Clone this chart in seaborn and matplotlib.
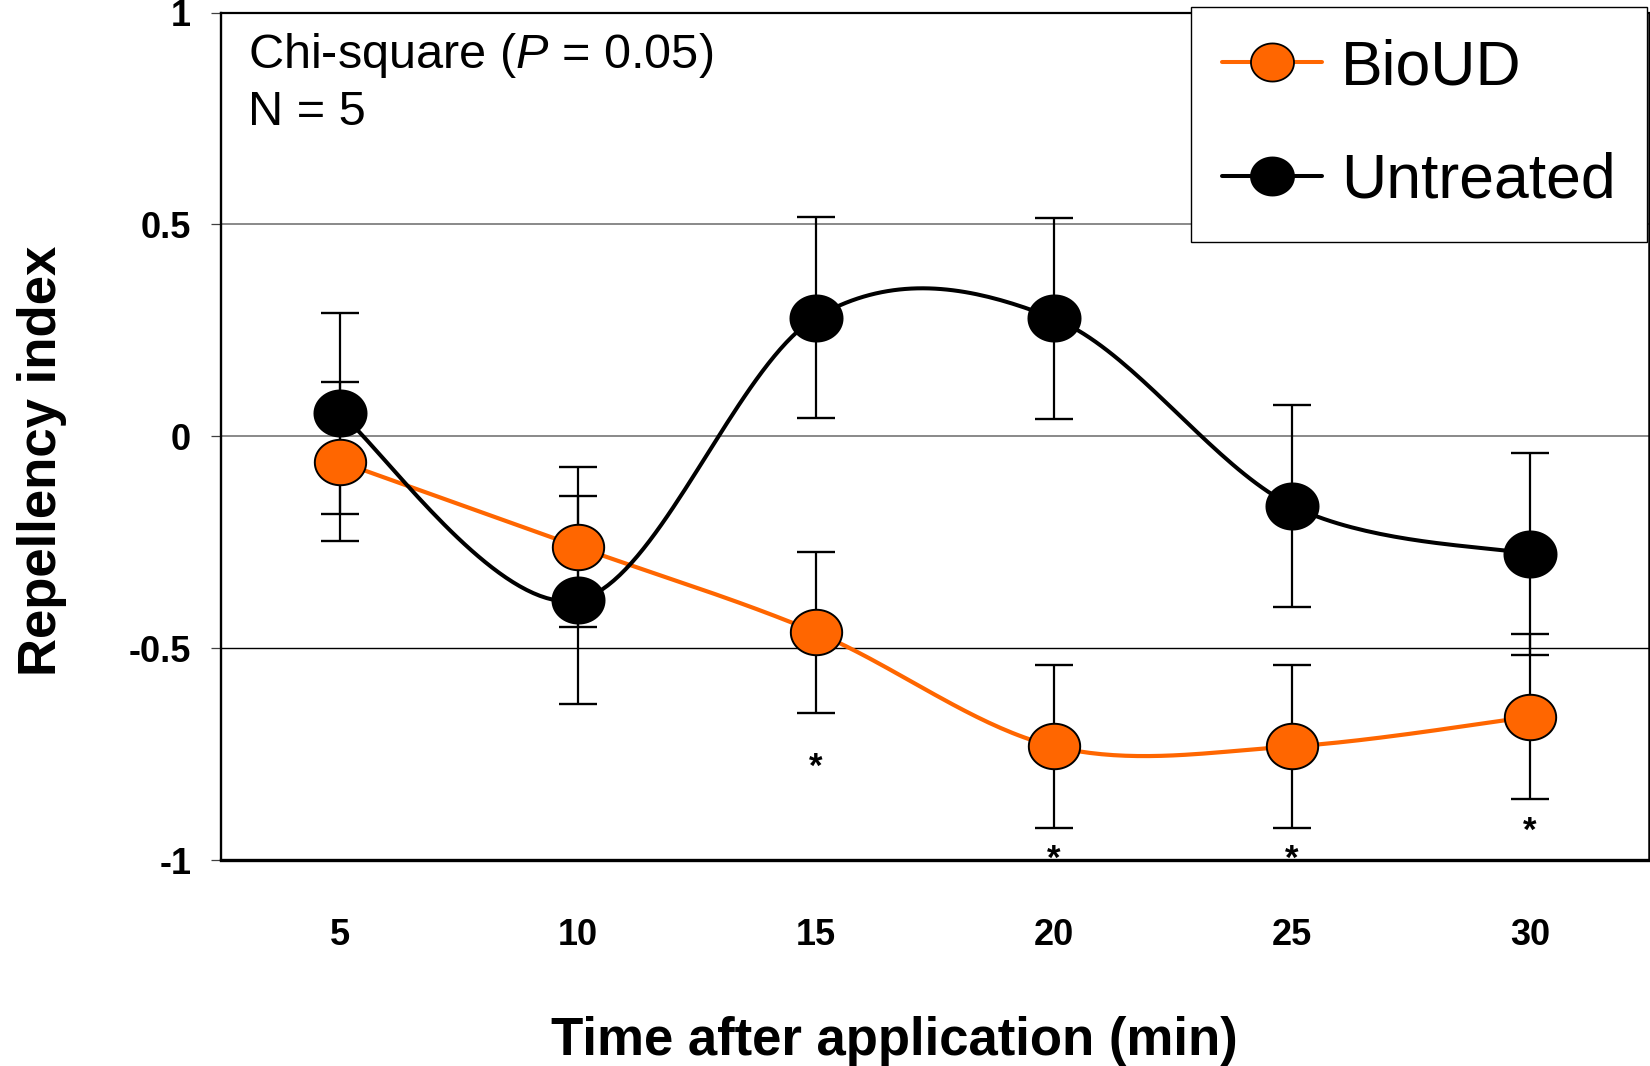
import numpy as np
import pandas as pd
import matplotlib
matplotlib.use("Agg")
import matplotlib.pyplot as plt
from matplotlib.path import Path
from matplotlib.lines import Line2D
import seaborn as sns

# ---------------- data ----------------
time_labels = ["5", "10", "15", "20", "25", "30"]
bioud = [-0.060, -0.261, -0.463, -0.732, -0.732, -0.662]
bioud_err = [0.188, 0.188, 0.190, 0.192, 0.192, 0.195]
untreated = [0.054, -0.387, 0.280, 0.278, -0.164, -0.278]
untreated_err = [0.238, 0.245, 0.237, 0.237, 0.238, 0.238]
sig_idx = [2, 3, 4, 5]
sig_y = [-0.759, -0.975, -0.975, -0.908]
series_names = ["BioUD", "Untreated"]
note_lines = ["Chi-square ($\\mathit{P}$ = 0.05)", "N = 5"]

ORANGE = "#FF6600"
DPI = 100

sns.set_theme(style="white")
plt.rcParams["font.family"] = ["Liberation Sans", "DejaVu Sans"]
plt.rcParams["mathtext.fontset"] = "custom"
plt.rcParams["mathtext.rm"] = "Liberation Sans"
plt.rcParams["mathtext.it"] = "Liberation Sans:italic"
for k in ["text.color", "axes.labelcolor", "xtick.color", "ytick.color"]:
    plt.rcParams[k] = "black"

fig = plt.figure(figsize=(16.5, 10.66), dpi=DPI)
L, R, T, B = 221, 1649, 12.5, 860
W, H = 1650, 1066
ax = fig.add_axes([L / W, 1 - B / H, (R - L) / W, (B - T) / H])

xpos = np.arange(len(time_labels))


def catmull_rom(xs, ys, n=40):
    """Smoothed (Excel-like) curve through the data points."""
    P = np.column_stack([xs, ys]).astype(float)
    P = np.vstack([P[0], P, P[-1]])
    out = []
    for i in range(1, len(P) - 2):
        p0, p1, p2, p3 = P[i - 1], P[i], P[i + 1], P[i + 2]
        t = np.linspace(0, 1, n, endpoint=(i == len(P) - 3))[:, None]
        m1 = (p2 - p0) / 2
        m2 = (p3 - p1) / 2
        h00 = 2 * t**3 - 3 * t**2 + 1
        h10 = t**3 - 2 * t**2 + t
        h01 = -2 * t**3 + 3 * t**2
        h11 = t**3 - t**2
        out.append(h00 * p1 + h10 * m1 + h01 * p2 + h11 * m2)
    c = np.vstack(out)
    return c[:, 0], c[:, 1]


# elliptical marker (wider than tall, as in the reference)
theta = np.linspace(0, 2 * np.pi, 65)
ell = Path(np.column_stack([np.cos(theta), 0.885 * np.sin(theta)]), closed=True)

# grid lines
ax.axhline(0.5, color="#808080", lw=1.3, zorder=0)
ax.axhline(0.0, color="#808080", lw=1.3, zorder=0)
ax.axhline(-0.5, color="black", lw=1.0, zorder=0)

# error bars
ax.errorbar(xpos, bioud, yerr=bioud_err, fmt="none", ecolor="black",
            elinewidth=1.6, capsize=14, capthick=1.7, zorder=2)
ax.errorbar(xpos, untreated, yerr=untreated_err, fmt="none", ecolor="black",
            elinewidth=1.6, capsize=14, capthick=1.7, zorder=2)

# smoothed lines
bx, by = catmull_rom(xpos, bioud)
ux, uy = catmull_rom(xpos, untreated)
sns.lineplot(x=bx, y=by, sort=False, estimator=None, color=ORANGE, lw=3.0, ax=ax, zorder=3)
sns.lineplot(x=ux, y=uy, sort=False, estimator=None, color="black", lw=2.9, ax=ax, zorder=3)

# markers
sns.scatterplot(x=xpos, y=bioud, marker=ell, s=37**2, color=ORANGE,
                edgecolor="black", linewidth=1.4, ax=ax, zorder=4)
sns.scatterplot(x=xpos, y=untreated, marker=ell, s=37.5**2, color="black",
                edgecolor="black", linewidth=1.4, ax=ax, zorder=5)

# significance asterisks
for i, yv in zip(sig_idx, sig_y):
    ax.annotate("*", xy=(xpos[i], yv), xytext=(0, -14), textcoords="offset points",
                ha="center", va="baseline", fontsize=25, fontweight="bold")

ax.set_xlim(-0.5, len(time_labels) - 0.5)
ax.set_ylim(-1, 1)
ax.set_xticks(xpos)
ax.set_xticklabels(time_labels)
ax.set_yticks([-1, -0.5, 0, 0.5, 1])
ax.set_yticklabels(["-1", "-0.5", "0", "0.5", "1"])
ax.tick_params(axis="x", length=0, pad=41.5, labelsize=26)
ax.tick_params(axis="y", direction="out", length=7.5, width=0.9, color="#404040",
               pad=14, labelsize=26, left=True, labelcolor="black")
for lab in ax.get_xticklabels() + ax.get_yticklabels():
    lab.set_fontweight("bold")

for s, lw in zip(["left", "bottom", "top", "right"], [1.7, 2.4, 1.6, 1.8]):
    ax.spines[s].set_visible(True)
    ax.spines[s].set_color("black")
    ax.spines[s].set_linewidth(lw)

ax.set_xlabel("Time after application (min)", fontsize=38, fontweight="bold", color="black")
ax.set_ylabel("Repellency index", fontsize=38, fontweight="bold", color="black")
ax.xaxis.set_label_coords((894 - L) / (R - L), -(1015.5 - B) / (B - T))
ax.yaxis.set_label_coords(-(L - 67) / (R - L), (B - 461) / (B - T))

# annotation
fig.text(248 / W, 1 - 68.5 / H, note_lines[0], fontsize=35, ha="left", va="baseline",
         color="black")
fig.text(248 / W, 1 - 125 / H, note_lines[1], fontsize=35, ha="left", va="baseline",
         color="black")

# legend
handles = [
    Line2D([], [], color=ORANGE, lw=2.9, marker=ell, markersize=31,
           markerfacecolor=ORANGE, markeredgecolor="black", markeredgewidth=1.3),
    Line2D([], [], color="black", lw=2.9, marker=ell, markersize=31,
           markerfacecolor="black", markeredgecolor="black", markeredgewidth=1.3),
]
leg = ax.legend(handles, series_names, loc="upper right",
                bbox_to_anchor=(1647 / W, 1 - 7 / H), bbox_transform=fig.transFigure,
                borderaxespad=0, frameon=True, fancybox=False, framealpha=1,
                edgecolor="black", fontsize=45, handlelength=1.6, handletextpad=0.3,
                borderpad=0.5, labelspacing=0.87)
leg.get_frame().set_linewidth(1.0)
for txt in leg.get_texts():
    txt.set_color("black")
leg.set_zorder(10)

fig.savefig("out.png", dpi=DPI)
